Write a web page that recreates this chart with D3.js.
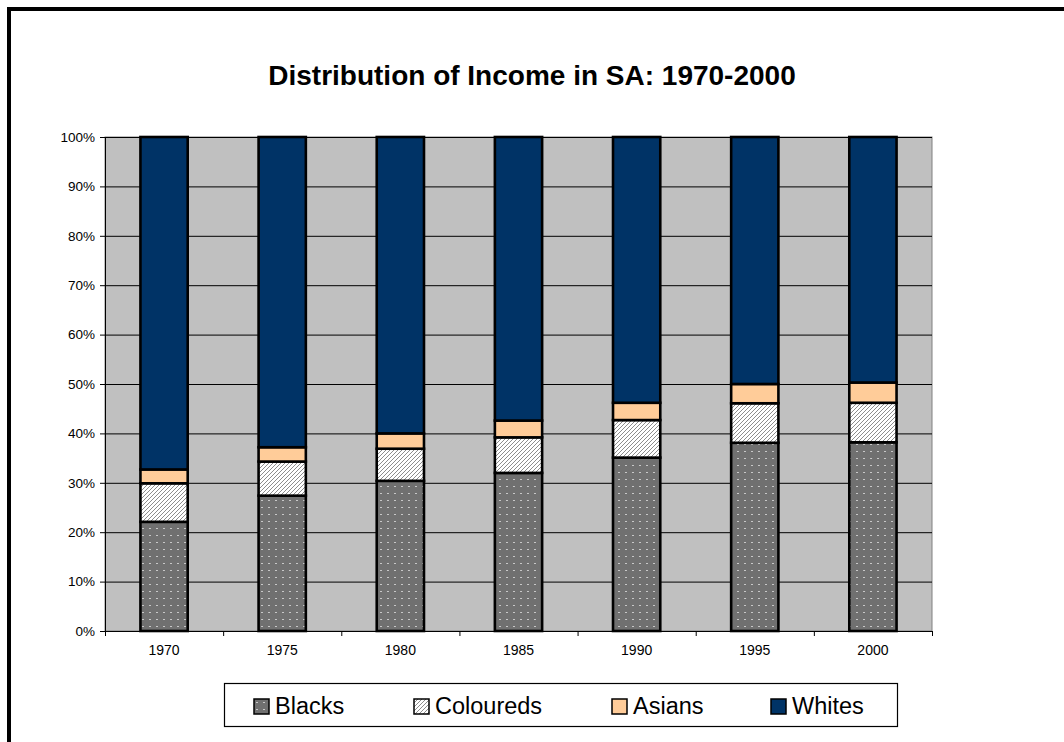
<!DOCTYPE html>
<html>
<head>
<meta charset="utf-8">
<script src="https://cdn.jsdelivr.net/npm/d3@7"></script>
<style>
    body { margin: 0; background: #fff; }
    svg { display: block; font-family: 'Liberation Sans', Arial, sans-serif; }
</style>
</head>
<body>
<div id="chart"></div>
<script>
var years = ['1970', '1975', '1980', '1985', '1990', '1995', '2000']
var blacks = [22.1, 27.4, 30.4, 32.0, 35.1, 38.1, 38.2]
var coloureds = [7.8, 6.9, 6.5, 7.2, 7.6, 8.0, 8.0]
var asians = [2.8, 2.9, 3.1, 3.4, 3.5, 3.9, 4.1]
var whites = [67.3, 62.8, 60.0, 57.4, 53.8, 50.0, 49.7]
var groups = ['Blacks', 'Coloureds', 'Asians', 'Whites']
var yTicks = [0, 0.1, 0.2, 0.3, 0.4, 0.5, 0.6, 0.7, 0.8, 0.9, 1]

var size = ({width: 1064, height: 742})
var plot = ({left: 105, right: 932, top: 137, bottom: 631})

var table = years.map((y, i) => ({
    year: y,
    Blacks: blacks[i] / 100,
    Coloureds: coloureds[i] / 100,
    Asians: asians[i] / 100,
    Whites: whites[i] / 100
}))

var stacked = d3.stack().keys(groups).offset(d3.stackOffsetExpand)(table)

var x = d3.scaleBand()
    .domain(years)
    .range([plot.left, plot.right])
    .paddingInner(0.6)
    .paddingOuter(0.3)

var y = d3.scaleLinear()
    .domain([0, 1])
    .range([plot.bottom, plot.top])

// category boundaries for the x tick marks
var xEdge = d3.scaleLinear()
    .domain([0, years.length])
    .range([plot.left, plot.right])

var fills = {
    Blacks: 'url(#dots)',
    Coloureds: 'url(#hatch)',
    Asians: '#ffcc99',
    Whites: '#003366'
}

const svg = d3.select('#chart')
    .append('svg')
    .attr('width', size.width)
    .attr('height', size.height)

// patterns
var defs = svg.append('defs')

var dots = defs.append('pattern')
    .attr('id', 'dots')
    .attr('patternUnits', 'userSpaceOnUse')
    .attr('width', 7)
    .attr('height', 7)
dots.append('rect').attr('width', 7).attr('height', 7).attr('fill', '#707070')
dots.append('rect').attr('x', 2).attr('y', 3).attr('width', 2).attr('height', 1).attr('fill', '#c8c8c8')

var hatch = defs.append('pattern')
    .attr('id', 'hatch')
    .attr('patternUnits', 'userSpaceOnUse')
    .attr('width', 4)
    .attr('height', 4)
hatch.append('rect').attr('width', 4).attr('height', 4).attr('fill', '#ffffff')
hatch.append('path')
    .attr('d', 'M-1,1 L1,-1 M0,4 L4,0 M3,5 L5,3')
    .attr('stroke', '#808080')
    .attr('stroke-width', 0.9)

// outer frame
svg.append('rect')
    .attr('x', 9)
    .attr('y', 9)
    .attr('width', size.width + 20)
    .attr('height', size.height + 20)
    .attr('fill', 'none')
    .attr('stroke', '#000')
    .attr('stroke-width', 4)

// title
svg.append('text')
    .attr('x', 532)
    .attr('y', 85)
    .attr('text-anchor', 'middle')
    .attr('font-size', 28)
    .attr('font-weight', 'bold')
    .text('Distribution of Income in SA: 1970-2000')

// plot area
svg.append('rect')
    .attr('x', plot.left)
    .attr('y', plot.top)
    .attr('width', plot.right - plot.left)
    .attr('height', plot.bottom - plot.top)
    .attr('fill', '#c0c0c0')
    .attr('stroke', '#808080')
    .attr('stroke-width', 1)

// gridlines
svg.append('g')
    .attr('transform', `translate(${plot.left}, 0)`)
    .call(d3.axisLeft(y).tickValues(yTicks).tickSize(-(plot.right - plot.left)).tickFormat(''))
    .call(g => g.select('.domain').remove())
    .selectAll('line')
        .attr('stroke', '#000')
        .attr('stroke-width', 1)

// bars
svg.append('g')
    .selectAll('g')
    .data(stacked)
    .join('g')
        .attr('fill', d => fills[d.key])
    .selectAll('rect')
    .data(d => d)
    .join('rect')
        .attr('x', d => x(d.data.year))
        .attr('y', d => y(d[1]))
        .attr('width', x.bandwidth())
        .attr('height', d => y(d[0]) - y(d[1]))
        .attr('stroke', '#000')
        .attr('stroke-width', 2.6)

// y axis
svg.append('g')
    .attr('transform', `translate(${plot.left}, 0)`)
    .call(d3.axisLeft(y).tickValues(yTicks).tickFormat(d3.format('.0%')).tickSize(5).tickSizeOuter(0))
    .call(g => g.selectAll('text').attr('font-size', 13.5).attr('fill', '#000').attr('x', -10))
    .call(g => g.selectAll('line, .domain').attr('stroke', '#000'))
    .attr('font-family', null)

// x axis: tick marks at category boundaries
svg.append('g')
    .attr('transform', `translate(0, ${plot.bottom})`)
    .call(d3.axisBottom(xEdge).tickValues(d3.range(years.length + 1)).tickFormat('').tickSize(5).tickSizeOuter(0))
    .call(g => g.selectAll('line, .domain').attr('stroke', '#000'))

// x labels
svg.append('g')
    .attr('transform', `translate(0, ${plot.bottom})`)
    .call(d3.axisBottom(x).tickSize(0).tickPadding(14))
    .call(g => g.select('.domain').remove())
    .call(g => g.selectAll('text').attr('font-size', 14).attr('fill', '#000'))
    .attr('font-family', null)

// legend
svg.append('rect')
    .attr('x', 224.5)
    .attr('y', 683.5)
    .attr('width', 673)
    .attr('height', 43)
    .attr('fill', '#fff')
    .attr('stroke', '#000')
    .attr('stroke-width', 1.2)

var legendX = [254, 414, 612, 771]

var legend = svg.append('g')
    .selectAll('g')
    .data(groups)
    .join('g')
        .attr('transform', (d, i) => `translate(${legendX[i]}, 699)`)

legend.append('rect')
    .attr('width', 15)
    .attr('height', 15)
    .attr('fill', d => fills[d])
    .attr('stroke', '#000')
    .attr('stroke-width', 1.5)

legend.append('text')
    .attr('x', 21)
    .attr('y', 15)
    .attr('font-size', 23.5)
    .text(d => d)
</script>
</body>
</html>
